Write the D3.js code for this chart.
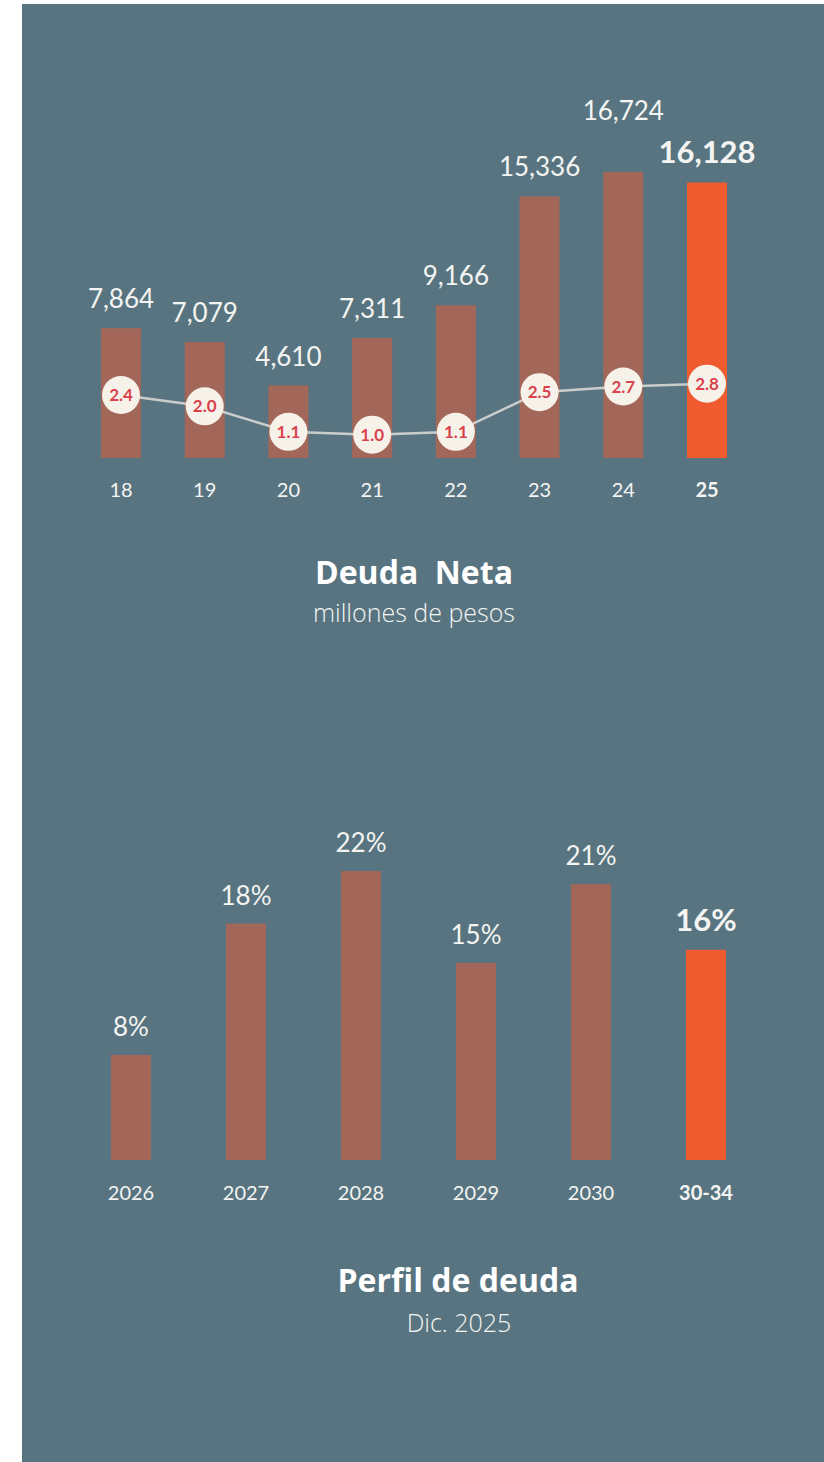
<!DOCTYPE html>
<html>
<head>
<meta charset="utf-8">
<script src="https://cdn.jsdelivr.net/npm/d3@7"></script>
<style>
  body { margin: 0; background: #fff; }
  svg { display: block; font-family: Lato, "Open Sans", sans-serif; }
  .title { font-family: "Open Sans", sans-serif; white-space: pre; }
</style>
</head>
<body>
<div id="chart"></div>
<script>
// deuda neta (millones de pesos) + ratio
const years = ["18", "19", "20", "21", "22", "23", "24", "25"],
      deuda = [7864, 7079, 4610, 7311, 9166, 15336, 16724, 16128],
      ratio = [2.4, 2.0, 1.1, 1.0, 1.1, 2.5, 2.7, 2.8];

// perfil de deuda
const periodos = ["2026", "2027", "2028", "2029", "2030", "30-34"],
      perfil = [8, 18, 22, 15, 21, 16];

const width = 824, height = 1462;
const bg = "#587480", barColor = "#a3675a", hiColor = "#ef5b2f",
      txt = "#f4f4f2";

const svg = d3.select("#chart")
  .append("svg")
  .attr("width", width)
  .attr("height", height);

svg.append("rect")
  .attr("x", 22).attr("y", 4)
  .attr("width", width - 22).attr("height", height - 4)
  .attr("fill", bg);

const fmt = d3.format(",");

// ---------- chart 1 ----------
let x1 = d3.scalePoint().domain(years).range([121, 707]),
    y1 = d3.scaleLinear().domain([500, 16724]).range([458, 172]),
    r1 = d3.scaleLinear().domain([0, 3]).range([463, 378]);

const last1 = years[years.length - 1];
const d1 = years.map((k, i) => ({k: k, v: deuda[i], r: ratio[i]}));

svg.append("g").selectAll("rect")
  .data(d1)
  .enter().append("rect")
  .attr("x", d => x1(d.k) - 20)
  .attr("width", 40)
  .attr("y", d => y1(d.v))
  .attr("height", d => y1(500) - y1(d.v))
  .attr("fill", d => d.k === last1 ? hiColor : barColor);

const vals = svg.append("g").selectAll("text")
  .data(d1)
  .enter().append("text")
  .attr("x", d => x1(d.k))
  .attr("y", d => y1(d.v) - 20)
  .attr("text-anchor", "middle")
  .attr("fill", txt)
  .attr("font-size", d => d.k === last1 ? 31 : 26)
  .attr("font-weight", d => d.k === last1 ? 700 : 400)
  .text(d => fmt(d.v));

// lift a label that would run into its right-hand neighbour
const nodes = vals.nodes();
for (let i = nodes.length - 2; i >= 0; i--) {
  const a = nodes[i], b = nodes[i + 1];
  const gap = x1.step() - (a.getComputedTextLength() + b.getComputedTextLength()) / 2;
  const ya = +a.getAttribute("y"), yb = +b.getAttribute("y");
  if (gap < 0 && ya > yb - 36) a.setAttribute("y", yb - 43);
}

// x labels
svg.append("g").selectAll("text")
  .data(d1)
  .enter().append("text")
  .attr("x", d => x1(d.k))
  .attr("y", 497)
  .attr("text-anchor", "middle")
  .attr("fill", txt)
  .attr("font-size", 20)
  .attr("font-weight", d => d.k === last1 ? 700 : 400)
  .text(d => d.k);

// ratio line
const line = d3.line()
  .x(d => x1(d.k))
  .y(d => r1(d.r));

svg.append("path")
  .datum(d1)
  .attr("d", line)
  .attr("fill", "none")
  .attr("stroke", "#e6e4df")
  .attr("stroke-opacity", 0.8)
  .attr("stroke-width", 2.5);

const dots = svg.append("g").selectAll("g")
  .data(d1)
  .enter().append("g")
  .attr("transform", d => "translate(" + x1(d.k) + "," + r1(d.r) + ")");

dots.append("circle")
  .attr("r", 19)
  .attr("fill", "#f6f2ea");

dots.append("text")
  .attr("text-anchor", "middle")
  .attr("dy", "0.36em")
  .attr("fill", "#d9424c")
  .attr("font-size", 17)
  .attr("font-weight", 700)
  .text(d => d3.format(".1f")(d.r));

svg.append("text")
  .attr("class", "title")
  .attr("x", 414).attr("y", 584)
  .attr("text-anchor", "middle")
  .attr("fill", "#fff")
  .attr("font-size", 32)
  .attr("font-weight", 700)
  .text("Deuda  Neta");

svg.append("text")
  .attr("class", "title")
  .attr("x", 414).attr("y", 622)
  .attr("text-anchor", "middle")
  .attr("fill", txt)
  .attr("font-size", 25)
  .attr("font-weight", 300)
  .text("millones de pesos");

// ---------- chart 2 ----------
let x2 = d3.scalePoint().domain(periodos).range([131, 706]),
    y2 = d3.scaleLinear().domain([0, 22]).range([1160, 871]);

const last2 = periodos[periodos.length - 1];
const d2 = periodos.map((k, i) => ({k: k, v: perfil[i]}));

svg.append("g").selectAll("rect")
  .data(d2)
  .enter().append("rect")
  .attr("x", d => x2(d.k) - 20)
  .attr("width", 40)
  .attr("y", d => y2(d.v))
  .attr("height", d => y2(0) - y2(d.v))
  .attr("fill", d => d.k === last2 ? hiColor : barColor);

svg.append("g").selectAll("text")
  .data(d2)
  .enter().append("text")
  .attr("x", d => x2(d.k))
  .attr("y", d => y2(d.v) - 19)
  .attr("text-anchor", "middle")
  .attr("fill", txt)
  .attr("font-size", d => d.k === last2 ? 31 : 26)
  .attr("font-weight", d => d.k === last2 ? 700 : 400)
  .text(d => d.v + "%");

svg.append("g").selectAll("text")
  .data(d2)
  .enter().append("text")
  .attr("x", d => x2(d.k))
  .attr("y", 1200)
  .attr("text-anchor", "middle")
  .attr("fill", txt)
  .attr("font-size", 20)
  .attr("font-weight", d => d.k === last2 ? 700 : 400)
  .text(d => d.k);

svg.append("text")
  .attr("class", "title")
  .attr("x", 458).attr("y", 1292)
  .attr("text-anchor", "middle")
  .attr("fill", "#fff")
  .attr("font-size", 32)
  .attr("font-weight", 700)
  .text("Perfil de deuda");

svg.append("text")
  .attr("class", "title")
  .attr("x", 459).attr("y", 1332)
  .attr("text-anchor", "middle")
  .attr("fill", txt)
  .attr("font-size", 25)
  .attr("font-weight", 300)
  .text("Dic. 2025");
</script>
</body>
</html>
